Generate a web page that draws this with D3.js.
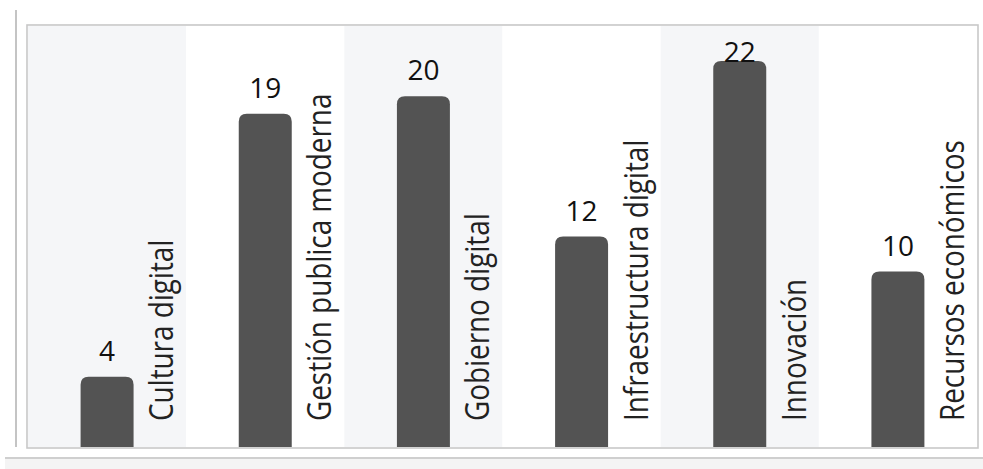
<!DOCTYPE html>
<html>
<head>
<meta charset="utf-8">
<script src="https://cdn.jsdelivr.net/npm/d3@7"></script>
<style>
  body { margin: 0; background: #fff; }
  svg { display: block; font-family: "Open Sans", "Noto Sans", sans-serif; }
</style>
</head>
<body>
<svg></svg>
<script>
// data
const categories = ['Cultura digital', 'Gestión publica moderna', 'Gobierno digital',
  'Infraestructura digital', 'Innovación', 'Recursos económicos'];
const values = [4, 19, 20, 12, 22, 10];
const yDomain = [0, 24];

const size = {w: 983, h: 469};
const plot = {l: 28, r: 977, t: 26, b: 447};
const svg = d3.select('svg').attr('width', size.w).attr('height', size.h);

// scales
const x = d3.scaleBand().domain(categories).range([plot.l, plot.r]).padding(0);
const y = d3.scaleLinear().domain(yDomain).range([plot.b, plot.t]);
const barW = x.bandwidth() * 0.335;
const rad = 8;

// left vertical rule
svg.append('line')
  .attr('x1', 16).attr('x2', 16).attr('y1', 10).attr('y2', plot.b)
  .attr('stroke', '#c4c4c4').attr('stroke-width', 2);

// bottom strip
svg.append('rect')
  .attr('x', 5).attr('y', 458).attr('width', size.w - 5).attr('height', size.h - 458)
  .attr('fill', '#f4f4f4');
svg.append('line')
  .attr('x1', 5).attr('x2', size.w).attr('y1', 458).attr('y2', 458)
  .attr('stroke', '#cfcfcf').attr('stroke-width', 2);

// alternating band backgrounds
svg.append('g').selectAll('rect')
  .data(categories)
  .join('rect')
  .attr('x', d => x(d))
  .attr('y', plot.t)
  .attr('width', x.bandwidth())
  .attr('height', plot.b - plot.t)
  .attr('fill', (d, i) => i % 2 === 0 ? '#f5f6f8' : '#ffffff');

// frame
svg.append('rect')
  .attr('x', plot.l - 1).attr('y', plot.t - 1)
  .attr('width', plot.r - plot.l + 2).attr('height', plot.b - plot.t + 2)
  .attr('fill', 'none').attr('stroke', '#c8c8c8').attr('stroke-width', 1.6);

// bars with rounded top corners
function barPath(cx, top) {
  const x0 = cx - barW / 2, x1 = cx + barW / 2;
  return `M${x0},${plot.b}V${top + rad}Q${x0},${top} ${x0 + rad},${top}` +
    `H${x1 - rad}Q${x1},${top} ${x1},${top + rad}V${plot.b}Z`;
}

const cx = d => x(d) + x.bandwidth() / 2;

svg.append('g').selectAll('path')
  .data(categories)
  .join('path')
  .attr('d', (d, i) => barPath(cx(d), y(values[i])))
  .attr('fill', '#535353');

// value labels
svg.append('g').selectAll('text')
  .data(categories)
  .join('text')
  .attr('x', d => cx(d))
  .attr('y', (d, i) => Math.max(y(values[i]) - 16, plot.t + 36))
  .attr('text-anchor', 'middle')
  .attr('font-size', 28)
  .attr('fill', '#111')
  .text((d, i) => values[i]);

// rotated category labels
svg.append('g').selectAll('text')
  .data(categories)
  .join('text')
  .attr('transform', d => `translate(${cx(d) + 66},${plot.b - 26}) rotate(-90) scale(0.87,1)`)
  .attr('font-size', 32)
  .attr('fill', '#222')
  .text(d => d);
</script>
</body>
</html>
